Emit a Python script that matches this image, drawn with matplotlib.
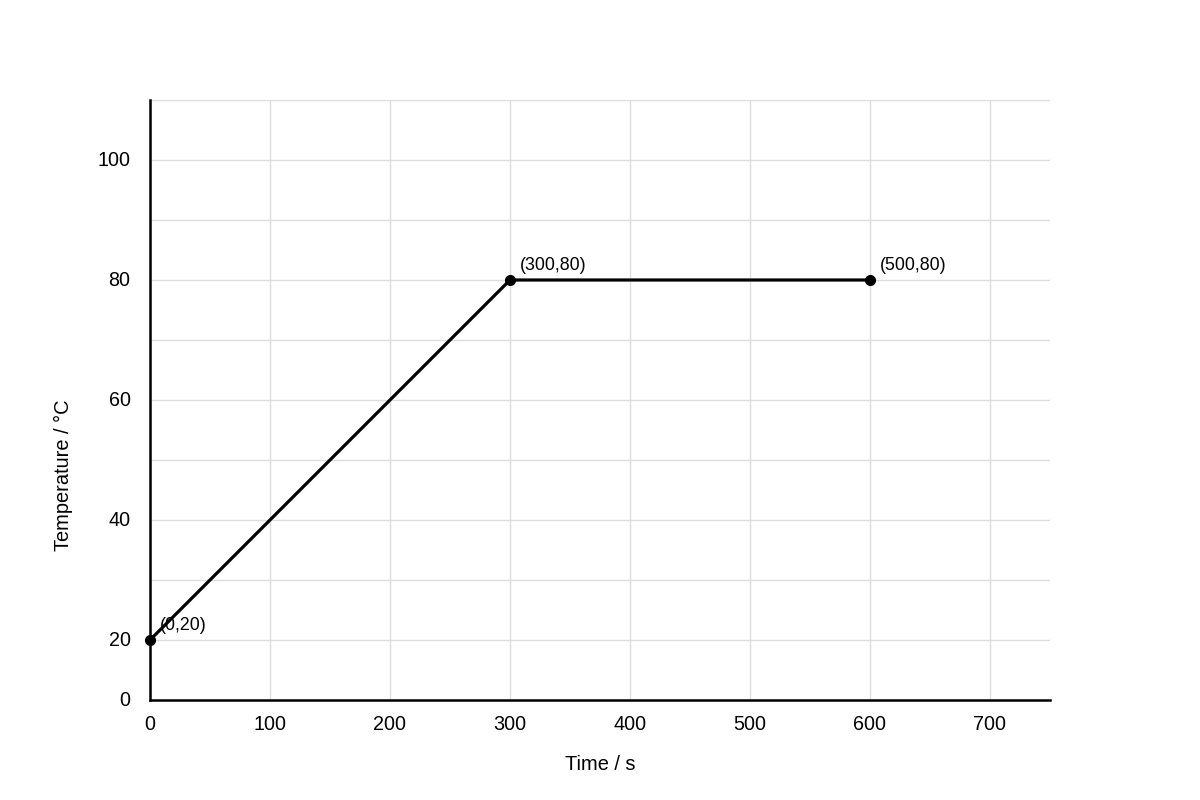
import matplotlib
matplotlib.use("Agg")
import matplotlib.pyplot as plt

time_s = [0, 300, 600]
temp_c = [20, 80, 80]
point_labels = ["(0,20)", "(300,80)", "(500,80)"]
x_ticks = [0, 100, 200, 300, 400, 500, 600, 700]
y_ticks = [10, 20, 30, 40, 50, 60, 70, 80, 90, 100, 110]
y_tick_labels = ["0", "20", "", "40", "", "60", "", "80", "", "100", ""]

plt.rcParams['font.family'] = ['Liberation Sans', 'DejaVu Sans']

fig = plt.figure(figsize=(12, 8), dpi=100)
ax = fig.add_axes([0.125, 0.125, 0.75, 0.75])

ax.plot(time_s, temp_c, color='black', linewidth=2.3, marker='o', markersize=7,
        solid_capstyle='round', zorder=3, clip_on=False)
for x, y, lab in zip(time_s, temp_c, point_labels):
    ax.annotate(lab, (x, y), xytext=(7, 4), textcoords='offset points',
                ha='left', va='bottom', fontsize=12.8, color='black')

ax.set_xlim(0, 750)
ax.set_ylim(10, 110)
ax.set_xticks(x_ticks)
ax.set_yticks(y_ticks)
ax.set_yticklabels(y_tick_labels, va='center')
ax.tick_params(axis='both', length=0, labelsize=14.2)
ax.tick_params(axis='y', pad=14)
ax.tick_params(axis='x', pad=11)
ax.grid(True, color='#dddddd', linewidth=1)
ax.set_axisbelow(True)
for s in ['top', 'right']:
    ax.spines[s].set_visible(False)
for s in ['left', 'bottom']:
    ax.spines[s].set_linewidth(1.8)
    ax.spines[s].set_color('black')

ax.set_xlabel('Time / s', fontsize=14.4, va='center')
ax.xaxis.set_label_coords(0.5, (700 - 765) / 600)
ax.set_ylabel('Temperature / °C', fontsize=14.4, va='center')
ax.yaxis.set_label_coords((63 - 150) / 900, (700 - 475) / 600)

fig.savefig('out.png', dpi=100)
